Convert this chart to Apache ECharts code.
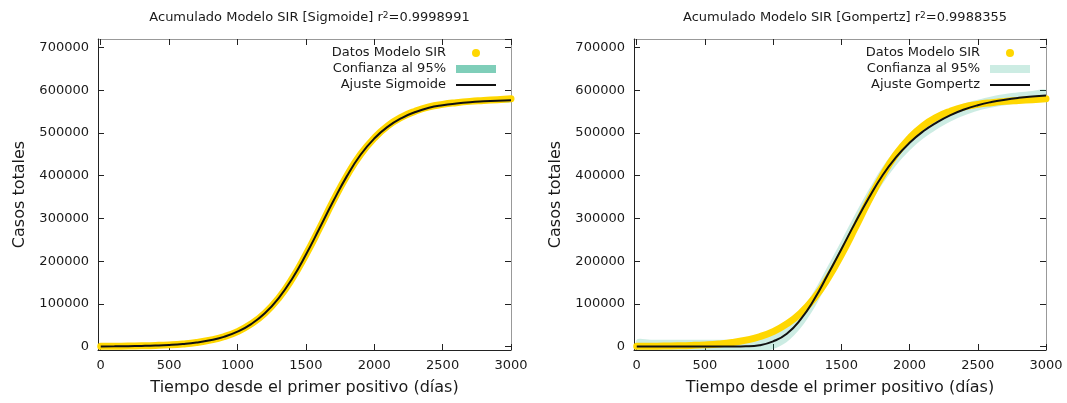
<!DOCTYPE html>
<html>
<head>
<meta charset="utf-8">
<script src="https://cdn.jsdelivr.net/npm/echarts@6/dist/echarts.min.js"></script>
<style>
  html, body { margin: 0; padding: 0; background: #fff; }
  #chart { width: 1067px; height: 403px; }
</style>
</head>
<body>
<div id="chart"></div>
<script>
// Days since the first positive case
const days = [0, 100, 200, 300, 400, 500, 600, 700, 800, 900, 1000, 1100, 1200, 1300, 1400, 1500,
  1600, 1700, 1800, 1900, 2000, 2100, 2200, 2300, 2400, 2500, 2600, 2700, 2800, 2900, 3000];

// Cumulative cases produced by the SIR model
const sirData = [500, 700, 1100, 1700, 2600, 4000, 6200, 9600, 15000, 23000, 35000, 53000, 78000,
  113000, 159000, 215000, 277000, 341000, 400000, 450000, 488000, 517000, 537000, 551000, 561000,
  567000, 571000, 574000, 576000, 578000, 580000];

// Sigmoid fit and its 95% confidence band
const sigmoidFit = [400, 600, 1000, 1600, 2500, 3900, 6100, 9500, 14800, 22800, 34800, 52700, 78000,
  113000, 159000, 215000, 277000, 340000, 399000, 449000, 487000, 515000, 535000, 549000, 559000,
  565000, 569000, 572000, 574000, 575500, 576500];
const sigmoidLow = [-2600, -2400, -2000, -1400, -500, 900, 3100, 6400, 11600, 19500, 31400, 49200, 74500,
  109500, 155500, 211500, 273500, 336500, 395500, 445500, 483500, 511500, 531000, 545000, 555000,
  561000, 565000, 568000, 570000, 571500, 572500];
const sigmoidHigh = [3400, 3600, 4000, 4600, 5500, 6900, 9100, 12600, 18000, 26100, 38200, 56200, 81500,
  116500, 162500, 218500, 280500, 343500, 402500, 452500, 490500, 518500, 539000, 553000, 563000,
  569000, 573000, 576000, 578000, 579500, 580500];

// Gompertz fit and its 95% confidence band
const gompertzFit = [0, 0, 0, 0, 0, 0, 0, 100, 600, 3300, 12200, 30000, 63000, 110000, 168000, 228000,
  289000, 347000, 400000, 443000, 477000, 504000, 525000, 542000, 555000, 565000, 572500, 578000,
  582300, 585500, 588000];
const gompertzLow = [-16000, -16000, -16000, -16000, -16000, -16000, -16000, -15900, -15400, -13700,
  -5800, 11000, 43000, 90000, 148000, 208000, 269000, 327000, 380000, 424000, 459000, 487000, 509000,
  527000, 541000, 552000, 559500, 565000, 569300, 572500, 575000];
const gompertzHigh = [16000, 16000, 16000, 16000, 16000, 16000, 16000, 16100, 16600, 20300, 30200,
  49000, 83000, 130000, 188000, 248000, 309000, 367000, 420000, 462000, 495000, 521000, 541000,
  557000, 569000, 578000, 585500, 591000, 595300, 598500, 601000];

const titles = ['Acumulado Modelo SIR [Sigmoide] r{sup|2}=0.9998991',
                'Acumulado Modelo SIR [Gompertz] r{sup|2}=0.9988355'];
const xTitle = 'Tiempo desde el primer positivo (días)';
const yTitle = 'Casos totales';
const dataName = 'Datos Modelo SIR';
const bandName = 'Confianza al 95%';
const fitNames = ['Ajuste Sigmoide', 'Ajuste Gompertz'];

const FONT = 'DejaVu Sans';
const TEXT = '#1a1a1a';
const GOLD = '#ffd700';
const TEAL = [0, 158, 115];
const bandAlpha = [0.5, 0.2];

const pairs = (ys) => days.map((d, i) => [d, ys[i]]);

const panels = [
  { fit: sigmoidFit, low: sigmoidLow, high: sigmoidHigh, left: 98, right: 556, center: 304.5, legendRight: 566 },
  { fit: gompertzFit, low: gompertzLow, high: gompertzHigh, left: 634, right: 21, center: 840, legendRight: 32 }
];

const option = {
  animation: false,
  backgroundColor: '#ffffff',
  textStyle: { fontFamily: FONT },
  title: [], grid: [], xAxis: [], yAxis: [], legend: [], series: []
};

// shaded band between the lower and upper confidence limits
function bandRenderer(low, high, fill) {
  return function (params, api) {
    if (params.dataIndex !== 0) return;
    const upper = days.map((d, i) => api.coord([d, high[i]]));
    const lower = days.map((d, i) => api.coord([d, low[i]])).reverse();
    const cs = params.coordSys;
    return {
      type: 'polygon',
      shape: { points: upper.concat(lower), smooth: 0.3 },
      style: { fill: fill },
      clipPath: { type: 'rect', shape: { x: cs.x, y: cs.y, width: cs.width, height: cs.height } },
      silent: true
    };
  };
}

panels.forEach((p, k) => {
  const teal = `rgba(${TEAL[0]},${TEAL[1]},${TEAL[2]},${bandAlpha[k]})`;
  option.title.push({
    text: titles[k], left: p.center, top: 6, textAlign: 'center',
    textStyle: {
      fontFamily: FONT, fontSize: 13, fontWeight: 'normal', color: TEXT,
      rich: { sup: { fontFamily: FONT, fontSize: 9, color: TEXT, verticalAlign: 'top', lineHeight: 9 } }
    }
  });
  option.grid.push({ left: p.left, right: p.right, top: 39, bottom: 53 });

  const plain = (v) => String(v);
  const xBase = { gridIndex: k, type: 'value', min: -20, max: 3000, splitLine: { show: false } };
  const yBase = { gridIndex: k, type: 'value', min: -8000, max: 720000, splitLine: { show: false } };
  option.xAxis.push(Object.assign({}, xBase, {
    position: 'bottom',
    axisLine: { onZero: false, lineStyle: { color: '#222', width: 1 } },
    axisTick: { inside: true, length: 6, lineStyle: { color: '#222' } },
    axisLabel: { showMinLabel: false, margin: 9, fontFamily: FONT, fontSize: 13, color: TEXT, formatter: plain },
    name: xTitle, nameLocation: 'middle', nameGap: 30,
    nameTextStyle: { fontFamily: FONT, fontSize: 16, color: TEXT }
  }));
  option.xAxis.push(Object.assign({}, xBase, {
    position: 'top',
    axisLine: { onZero: false, lineStyle: { color: '#999', width: 1 } },
    axisTick: { inside: true, length: 6, lineStyle: { color: '#222' } },
    axisLabel: { show: false }
  }));
  option.yAxis.push(Object.assign({}, yBase, {
    position: 'left',
    axisLine: { show: true, onZero: false, lineStyle: { color: '#222', width: 1 } },
    axisTick: { show: true, inside: true, length: 6, lineStyle: { color: '#222' } },
    axisLabel: { showMinLabel: false, showMaxLabel: false, margin: 9, fontFamily: FONT, fontSize: 13, color: TEXT, formatter: plain },
    name: yTitle, nameLocation: 'middle', nameGap: 70,
    nameTextStyle: { fontFamily: FONT, fontSize: 16, color: TEXT }
  }));
  option.yAxis.push(Object.assign({}, yBase, {
    position: 'right',
    axisLine: { show: true, onZero: false, lineStyle: { color: '#999', width: 1 } },
    axisTick: { show: true, inside: true, length: 6, lineStyle: { color: '#222' } },
    axisLabel: { show: false }
  }));

  const xi = 2 * k, yi = 2 * k;
  // model data: a thick run of dots
  option.series.push({
    name: dataName, type: 'line', xAxisIndex: xi, yAxisIndex: yi,
    data: pairs(sirData), showSymbol: false, smooth: 0.5,
    color: GOLD, lineStyle: { color: GOLD, width: 7, cap: 'round', join: 'round' },
    silent: true
  });
  // 95% confidence band
  option.series.push({
    name: bandName, type: 'custom', xAxisIndex: xi, yAxisIndex: yi,
    data: days.map((d, i) => [d, p.low[i], p.high[i]]),
    encode: { x: 0, y: [1, 2] },
    color: teal, itemStyle: { color: teal },
    renderItem: bandRenderer(p.low, p.high, teal), silent: true
  });
  // fitted curve
  option.series.push({
    name: fitNames[k], type: 'line', xAxisIndex: xi, yAxisIndex: yi,
    data: pairs(p.fit), showSymbol: false, smooth: 0.5,
    color: '#111', lineStyle: { color: '#111', width: 2 }, silent: true
  });

  option.legend.push({
    orient: 'vertical', align: 'right', right: p.legendRight, top: 41,
    itemWidth: 40, itemHeight: 8, itemGap: 2, selectedMode: false,
    textStyle: { fontFamily: FONT, fontSize: 13, color: TEXT, lineHeight: 14, padding: [0, 5, 0, 0] },
    data: [
      { name: dataName, icon: 'circle', itemStyle: { color: GOLD } },
      { name: bandName, icon: 'rect', itemStyle: { color: teal } },
      { name: fitNames[k], icon: 'path://M0,0 L40,0 L40,2 L0,2 Z', itemStyle: { color: '#111' } }
    ]
  });
});

const chart = echarts.init(document.getElementById('chart'), null, { renderer: 'canvas' });
chart.setOption(option);
</script>
</body>
</html>
